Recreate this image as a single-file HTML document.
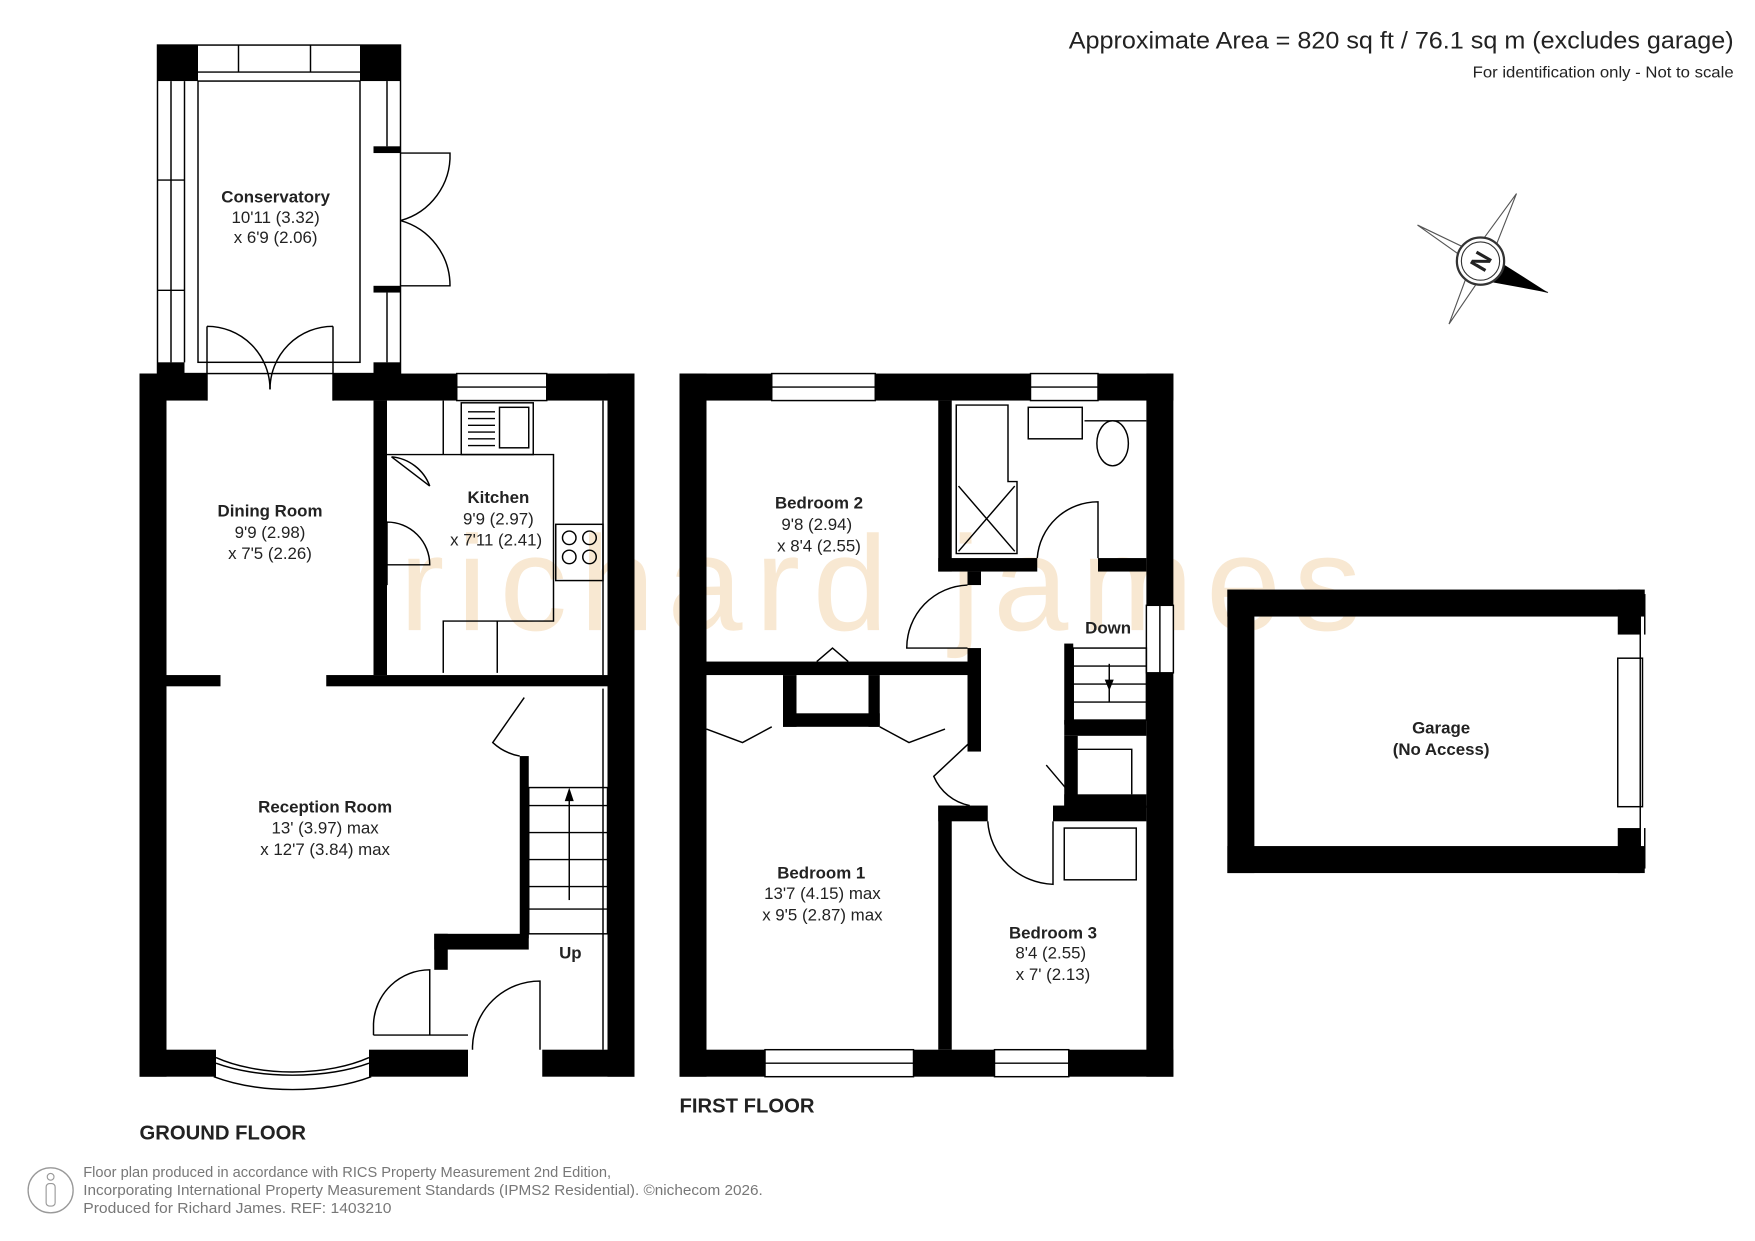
<!DOCTYPE html>
<html><head><meta charset="utf-8"><style>
html,body{margin:0;padding:0;background:#fff}
svg{display:block}
text{font-family:"Liberation Sans",Arial,sans-serif;fill:#222}
.b{font-weight:bold}
</style></head><body>
<svg width="1755" height="1241" viewBox="0 0 1560 1103" xmlns="http://www.w3.org/2000/svg">
<rect width="1560" height="1103" fill="#fff"/>
<!-- watermark -->
<text x="355" y="560" font-size="120" style="fill:#f8e8d2" textLength="855" lengthAdjust="spacing">richard james</text>

<g fill="#000" stroke="none">
<rect x="140" y="40" width="36" height="32"/>
<rect x="320" y="40" width="36" height="32"/>
<rect x="140" y="322" width="24" height="10"/>
<rect x="332" y="322" width="24" height="10"/>
<rect x="332" y="130" width="24" height="6"/>
<rect x="332" y="254" width="24" height="6"/>
<rect x="124" y="332" width="24" height="625"/>
<rect x="124" y="332" width="60" height="24"/>
<rect x="296" y="332" width="110" height="24"/>
<rect x="486" y="332" width="78" height="24"/>
<rect x="540" y="332" width="24" height="625"/>
<rect x="124" y="933" width="68" height="24"/>
<rect x="328" y="933" width="88" height="24"/>
<rect x="482" y="933" width="82" height="24"/>
<rect x="332" y="356" width="12" height="244"/>
<rect x="148" y="600" width="48" height="10"/>
<rect x="290" y="600" width="250" height="10"/>
<rect x="462" y="672" width="8" height="162"/>
<rect x="386" y="830" width="84" height="14"/>
<rect x="386" y="830" width="12" height="32"/>
<rect x="604" y="332" width="24" height="625"/>
<rect x="604" y="332" width="82" height="24"/>
<rect x="778" y="332" width="138" height="24"/>
<rect x="976" y="332" width="67" height="24"/>
<rect x="1019" y="332" width="24" height="206"/>
<rect x="1019" y="598" width="24" height="359"/>
<rect x="604" y="933" width="76" height="24"/>
<rect x="812" y="933" width="72" height="24"/>
<rect x="950" y="933" width="93" height="24"/>
<rect x="834" y="356" width="12" height="152"/>
<rect x="834" y="496" width="88" height="12"/>
<rect x="976" y="496" width="43" height="12"/>
<rect x="860" y="508" width="12" height="12"/>
<rect x="628" y="588" width="234" height="12"/>
<rect x="860" y="576" width="12" height="92"/>
<rect x="696" y="600" width="12" height="46"/>
<rect x="696" y="634" width="86" height="12"/>
<rect x="772" y="600" width="10" height="46"/>
<rect x="946" y="572" width="8" height="72"/>
<rect x="946" y="640" width="73" height="14"/>
<rect x="946" y="654" width="12" height="64"/>
<rect x="946" y="706" width="73" height="12"/>
<rect x="834" y="716" width="44" height="14"/>
<rect x="834" y="716" width="12" height="217"/>
<rect x="936" y="716" width="83" height="14"/>
<rect x="1091" y="524" width="371" height="24"/>
<rect x="1091" y="752" width="371" height="24"/>
<rect x="1091" y="524" width="24" height="252"/>
<rect x="1438" y="524" width="20" height="40"/>
<rect x="1438" y="736" width="20" height="40"/>
</g>

<g fill="none" stroke="#000" stroke-width="1.3">
<rect x="140" y="40" width="216" height="292"/>
<rect x="176" y="72" width="144" height="250"/>
<line x1="176" y1="64" x2="320" y2="64"/>
<line x1="212" y1="40" x2="212" y2="64"/><line x1="276" y1="40" x2="276" y2="64"/>
<line x1="164" y1="72" x2="164" y2="322"/><line x1="152" y1="72" x2="152" y2="322"/>
<line x1="140" y1="160" x2="164" y2="160"/><line x1="140" y1="258" x2="164" y2="258"/>
<line x1="344" y1="72" x2="344" y2="130"/><line x1="344" y1="260" x2="344" y2="322"/>
<path d="M356 136 L400 136 A60 60 0 0 1 356 196"/>
<path d="M356 254 L400 254 A60 60 0 0 0 356 196"/>
<path d="M184 290 L184 356 M184 290 A56 56 0 0 1 240 346"/>
<path d="M296 290 L296 356 M296 290 A56 56 0 0 0 240 346"/>
<line x1="406" y1="344" x2="486" y2="344"/><rect x="406" y="332" width="80" height="24"/>
<path d="M192 945 A100 40 0 0 0 328 945"/>
<path d="M190 957 A110 50 0 0 0 330 957"/>
<path d="M192 940 A100 48 0 0 0 328 940"/>
<rect x="410" y="358" width="64" height="46"/>
<rect x="444" y="362" width="26" height="36"/>
<line x1="416" y1="366" x2="440" y2="366"/><line x1="416" y1="372" x2="440" y2="372"/><line x1="416" y1="378" x2="440" y2="378"/><line x1="416" y1="384" x2="440" y2="384"/><line x1="416" y1="390" x2="440" y2="390"/><line x1="416" y1="396" x2="440" y2="396"/>
<path d="M344 404 L492 404 L492 552 L394 552 L394 598 M442 552 L442 598 M394 404 L394 356"/>
<path d="M348 406 L382 432 M348 406 A40 40 0 0 1 382 432"/>
<path d="M344 464 A38 38 0 0 1 382 502 L344 502 M344 464 L344 520"/>
<rect x="494" y="466" width="42" height="50"/>
<circle cx="506" cy="478" r="6"/><circle cx="524" cy="478" r="6"/><circle cx="506" cy="495" r="6"/><circle cx="524" cy="495" r="6"/>
<line x1="536" y1="356" x2="536" y2="600"/>
<line x1="536" y1="612" x2="536" y2="933"/>
<rect x="470" y="700" width="70" height="130" />
<line x1="470" y1="716" x2="540" y2="716"/><line x1="470" y1="740" x2="540" y2="740"/><line x1="470" y1="764" x2="540" y2="764"/><line x1="470" y1="788" x2="540" y2="788"/><line x1="470" y1="808" x2="540" y2="808"/>
<line x1="506" y1="800" x2="506" y2="706"/>
<path d="M466 620 L438 660 A48 48 0 0 0 462 672"/>
<path d="M332 920 L332 910 A50 50 0 0 1 382 862 L382 920 M332 920 L416 920"/>
<path d="M420 933 L420 930 A60 60 0 0 1 480 872 L480 933"/>
<rect x="686" y="332" width="92" height="24"/><line x1="686" y1="344" x2="778" y2="344"/>
<rect x="916" y="332" width="60" height="24"/><line x1="916" y1="344" x2="976" y2="344"/>
<rect x="1019" y="538" width="24" height="60"/><line x1="1031" y1="538" x2="1031" y2="598"/>
<rect x="680" y="933" width="132" height="24"/><line x1="680" y1="945" x2="812" y2="945"/>
<rect x="884" y="933" width="66" height="24"/><line x1="884" y1="945" x2="950" y2="945"/>
<path d="M850 360 L896 360 L896 428 L904 428 L904 492 L850 492 Z"/>
<path d="M852 432 L902 490 M902 432 L852 490"/>
<rect x="914" y="362" width="48" height="28"/>
<ellipse cx="989" cy="394" rx="14" ry="20"/>
<path d="M964 374 L1019 374"/>
<path d="M976 496 L976 446 A54 54 0 0 0 922 496"/>
<path d="M860 520 A56 56 0 0 0 806 576 L860 576"/>
<path d="M726 588 L740 576 L754 588"/>
<path d="M628 648 L660 660 L686 646 M782 646 L808 660 L840 648"/>
<path d="M862 660 L830 690 A44 44 0 0 0 862 716"/>
<path d="M878 730 A60 60 0 0 0 936 786 L936 730"/>
<rect x="954" y="576" width="65" height="64"/>
<line x1="954" y1="592" x2="1019" y2="592"/><line x1="954" y1="608" x2="1019" y2="608"/><line x1="954" y1="624" x2="1019" y2="624"/>
<line x1="986" y1="590" x2="986" y2="624"/>
<path d="M958 666 L1006 666 L1006 706 M930 680 L952 706"/>
<rect x="946" y="736" width="64" height="46"/>
<rect x="1438" y="585" width="22" height="132"/>
<line x1="1458" y1="528" x2="1458" y2="772"/>
<line x1="1462" y1="528" x2="1462" y2="564"/><line x1="1462" y1="736" x2="1462" y2="772"/>
</g>
<path d="M986 614 L982 604 L990 604 Z" fill="#000"/>
<path d="M506 700 L502 712 L510 712 Z" fill="#000"/>

<g transform="translate(1316,232)">
<path d="M-56 -32 L-6 -8 L32 -60 L6 6 L60 28 L2 12 L-28 56 L-8 2 Z" fill="#fff" stroke="#555" stroke-width="1"/>
<path d="M16 0 L60 28 L6 18 Z" fill="#000"/>
<circle r="21" fill="#fff" stroke="#333" stroke-width="2"/>
<circle r="17" fill="none" stroke="#333" stroke-width="1"/>
<text x="0" y="8" font-size="22" class="b" text-anchor="middle" transform="rotate(-60)">N</text>
</g>

<g font-size="15" text-anchor="middle">
<text x="245" y="180" class="b">Conservatory</text>
<text x="245" y="198">10'11 (3.32)</text>
<text x="245" y="216">x 6'9 (2.06)</text>
<text x="240" y="459" class="b">Dining Room</text>
<text x="240" y="478">9'9 (2.98)</text>
<text x="240" y="497">x 7'5 (2.26)</text>
<text x="443" y="447" class="b">Kitchen</text>
<text x="443" y="466">9'9 (2.97)</text>
<text x="441" y="485">x 7'11 (2.41)</text>
<text x="289" y="722" class="b">Reception Room</text>
<text x="289" y="741">13' (3.97) max</text>
<text x="289" y="760">x 12'7 (3.84) max</text>
<text x="507" y="852" class="b">Up</text>
<text x="728" y="452" class="b">Bedroom 2</text>
<text x="726" y="471">9'8 (2.94)</text>
<text x="728" y="490">x 8'4 (2.55)</text>
<text x="985" y="563" class="b">Down</text>
<text x="730" y="781" class="b">Bedroom 1</text>
<text x="731" y="799">13'7 (4.15) max</text>
<text x="731" y="818">x 9'5 (2.87) max</text>
<text x="936" y="834" class="b">Bedroom 3</text>
<text x="934" y="852">8'4 (2.55)</text>
<text x="936" y="871">x 7' (2.13)</text>
<text x="1281" y="652" class="b">Garage</text>
<text x="1281" y="671" class="b">(No Access)</text>
</g>
<text x="124" y="1013" font-size="18" class="b">GROUND FLOOR</text>
<text x="604" y="989" font-size="18" class="b">FIRST FLOOR</text>
<text x="950" y="43" font-size="21" textLength="591" lengthAdjust="spacingAndGlyphs">Approximate Area = 820 sq ft / 76.1 sq m (excludes garage)</text>
<text x="1309" y="69" font-size="14" textLength="232" lengthAdjust="spacingAndGlyphs">For identification only - Not to scale</text>
<g font-size="13">
<text x="74" y="1046" style="fill:#777">Floor plan produced in accordance with RICS Property Measurement 2nd Edition,</text>
<text x="74" y="1062" style="fill:#777" textLength="604" lengthAdjust="spacingAndGlyphs">Incorporating International Property Measurement Standards (IPMS2 Residential).  ©nichecom 2026.</text>
<text x="74" y="1078" style="fill:#777" textLength="274" lengthAdjust="spacingAndGlyphs">Produced for Richard James.   REF:  1403210</text>
</g>
<circle cx="45" cy="1058" r="20" fill="none" stroke="#999" stroke-width="1.2"/>
<circle cx="45" cy="1046" r="3" fill="none" stroke="#999"/>
<rect x="41" y="1052" width="8" height="20" rx="3" fill="none" stroke="#999"/>
</svg>
</body></html>
